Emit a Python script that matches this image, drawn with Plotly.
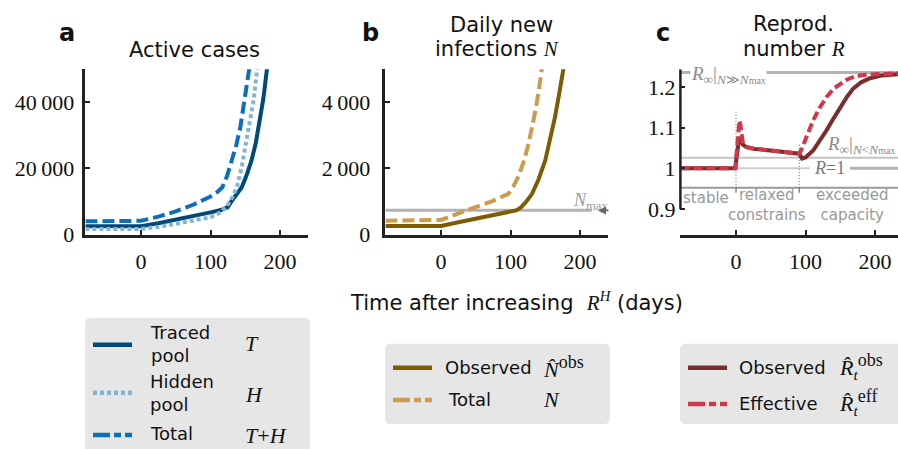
import plotly.graph_objects as go

# ---------------- data ----------------
T_days = [-80, 0, 25, 50, 75, 100, 115, 125, 131, 138, 145, 152, 159, 165, 170, 176, 181, 186]
T_vals = [2500, 2500, 3400, 4400, 5500, 6700, 7400, 8300, 10300, 12300, 14300, 18000, 22400, 27500, 33000, 41000, 49700, 58000]

H_days = [-80, 0, 25, 50, 75, 100, 115, 125, 132, 138, 145, 152, 157, 162, 167, 172]
H_vals = [1700, 1700, 2300, 3200, 4100, 5200, 6800, 9000, 11500, 14300, 20500, 28500, 34500, 40600, 49700, 58000]

TH_days = [-80, -3, 0, 25, 50, 75, 100, 110, 117, 124, 131, 137, 143, 149, 155, 160]
TH_vals = [4000, 4000, 4150, 5400, 7000, 9000, 11500, 12900, 14300, 17800, 22400, 27000, 32500, 39500, 47700, 56000]

Nobs_days = [-80, 0, 25, 50, 75, 100, 108, 115, 122, 131, 140, 150, 157, 164, 170, 176, 181]
Nobs_vals = [260, 260, 370, 480, 580, 680, 730, 820, 980, 1230, 1650, 2240, 2850, 3550, 4250, 4970, 5600]

Ntot_days = [-80, -3, 0, 25, 50, 75, 97, 104, 111, 119, 126, 131, 136, 141, 145, 149]
Ntot_vals = [420, 420, 440, 640, 830, 1020, 1230, 1450, 1740, 2200, 2750, 3200, 3760, 4400, 4970, 5600]

N_MAX = 730

Robs_days = [-80, -1, 1, 3, 5, 7, 10, 15, 25, 50, 78, 91, 95, 100, 111, 120, 130, 140, 150, 160, 169, 180, 193, 210, 233]
Robs_vals = [1.0, 1.0, 1.03, 1.065, 1.077, 1.07, 1.058, 1.052, 1.048, 1.044, 1.039, 1.036, 1.024, 1.027, 1.044,
             1.066, 1.093, 1.122, 1.151, 1.177, 1.197, 1.212, 1.222, 1.229, 1.232]

Reff_days = [-80, -1, 1, 3, 4, 5, 6, 8, 10, 15, 25, 50, 78, 91, 95, 100, 106, 111, 120, 130, 140, 150, 160,
             170, 183, 200, 233]
Reff_vals = [1.0, 1.0, 1.04, 1.10, 1.115, 1.118, 1.11, 1.08, 1.062, 1.053, 1.049, 1.044, 1.039, 1.036, 1.05,
             1.072, 1.098, 1.118, 1.148, 1.175, 1.196, 1.209, 1.219, 1.226, 1.230, 1.232, 1.234]

R_INF_HIGH = 1.236
R_INF_LOW = 1.026
R_ONE = 1.0
R_BAND = 0.952
T_RELAX = 0
T_EXCEED = 91

x_ticks = [0, 100, 200]
a_yticks = [0, 20000, 40000]
a_ylabels = ["0", "20\u2009000", "40\u2009000"]
b_yticks = [0, 2000, 4000]
b_ylabels = ["0", "2\u2009000", "4\u2009000"]
c_yticks = [0.9, 1.0, 1.1, 1.2]
c_ylabels = ["0.9", "1", "1.1", "1.2"]

# ---------------- colours ----------------
C_T = "#00497a"
C_H = "#82b4d8"
C_TH = "#0d6fb8"
C_NOBS = "#7d5c05"
C_NTOT = "#cc9c4c"
C_ROBS = "#7a2d2d"
C_REFF = "#d0384c"
GRAY = "#b3b3b3"

W, H = 898, 449      # reference pixel frame (all positions below are in this frame)
FIG_H = 463          # page height (the capture is squeezed vertically to 449)


def px(x, y):
    return x / W, 1 - y / H


fig = go.Figure()

# panel a
fig.add_trace(go.Scatter(x=T_days, y=T_vals, mode="lines", line=dict(color=C_T, width=4), xaxis="x", yaxis="y"))
fig.add_trace(go.Scatter(x=H_days, y=H_vals, mode="lines", line=dict(color=C_H, width=4, dash="4px,3px"), xaxis="x", yaxis="y"))
fig.add_trace(go.Scatter(x=TH_days, y=TH_vals, mode="lines", line=dict(color=C_TH, width=4, dash="12px,5px"), xaxis="x", yaxis="y"))
# panel b
fig.add_trace(go.Scatter(x=Nobs_days, y=Nobs_vals, mode="lines", line=dict(color=C_NOBS, width=4), xaxis="x2", yaxis="y2"))
fig.add_trace(go.Scatter(x=Ntot_days, y=Ntot_vals, mode="lines", line=dict(color=C_NTOT, width=4, dash="12px,5px"), xaxis="x2", yaxis="y2"))
# panel c
fig.add_trace(go.Scatter(x=Robs_days, y=Robs_vals, mode="lines", line=dict(color=C_ROBS, width=4), xaxis="x3", yaxis="y3"))
fig.add_trace(go.Scatter(x=Reff_days, y=Reff_vals, mode="lines", line=dict(color=C_REFF, width=4, dash="9px,4px"), xaxis="x3", yaxis="y3"))

axis_common = dict(showline=True, linecolor="#222", linewidth=2.5, ticks="inside", ticklen=5, tickwidth=2,
                   tickcolor="#222", showgrid=False, zeroline=False, fixedrange=True,
                   tickfont=dict(family="Liberation Serif", size=22, color="#111"))

ydom = [1 - 234 / H, 1 - 69 / H]

fig.update_layout(
    width=W, height=FIG_H, margin=dict(l=0, r=0, t=0, b=0), showlegend=False,
    paper_bgcolor="white", plot_bgcolor="rgba(0,0,0,0)",
    xaxis=dict(axis_common, domain=[85.4 / W, 307.8 / W], range=[-80, 240], anchor="y",
               tickvals=x_ticks, ticklabelstandoff=5),
    yaxis=dict(axis_common, domain=ydom, range=[0, 50000], anchor="x",
               tickvals=a_yticks, ticktext=a_ylabels, ticklabelstandoff=4),
    xaxis2=dict(axis_common, domain=[385.4 / W, 607.8 / W], range=[-80, 240], anchor="y2",
                tickvals=x_ticks, ticklabelstandoff=5),
    yaxis2=dict(axis_common, domain=ydom, range=[0, 5000], anchor="x2",
                tickvals=b_yticks, ticktext=b_ylabels, ticklabelstandoff=8),
    xaxis3=dict(axis_common, domain=[680.4 / W, 1.0], range=[-80, 233.1], anchor="y3",
                tickvals=x_ticks, ticklabelstandoff=5),
    yaxis3=dict(axis_common, domain=ydom, range=[0.837, 1.2444], anchor="x3", showline=False,
                tickvals=c_yticks, ticktext=c_ylabels, ticklabelstandoff=4),
)

shapes = []
# panel c y-axis spine (partial)
shapes.append(dict(type="line", xref="paper", yref="y3", x0=680.4 / W, x1=680.4 / W, y0=0.9, y1=1.2444,
                   line=dict(color="#222", width=2.5)))
# N_max line
shapes.append(dict(type="line", xref="x2", yref="y2", x0=-80, x1=217, y0=N_MAX, y1=N_MAX,
                   line=dict(color=GRAY, width=3), layer="below"))
# panel c reference lines
shapes.append(dict(type="line", xref="x3", yref="y3", x0=-80, x1=233.1, y0=R_INF_HIGH, y1=R_INF_HIGH,
                   line=dict(color=GRAY, width=3), layer="below"))
shapes.append(dict(type="line", xref="x3", yref="y3", x0=-80, x1=233.1, y0=R_INF_LOW, y1=R_INF_LOW,
                   line=dict(color="#c4c4c4", width=2), layer="below"))
shapes.append(dict(type="line", xref="x3", yref="y3", x0=-80, x1=106, y0=R_ONE, y1=R_ONE,
                   line=dict(color="#cfcfcf", width=2), layer="below"))
shapes.append(dict(type="line", xref="x3", yref="y3", x0=164, x1=233.1, y0=R_ONE, y1=R_ONE,
                   line=dict(color=GRAY, width=3), layer="below"))
shapes.append(dict(type="line", xref="x3", yref="y3", x0=-80, x1=233.1, y0=R_BAND, y1=R_BAND,
                   line=dict(color="#9a9a9a", width=2), layer="below"))
for tx, ytop in [(T_RELAX, 1.141), (T_EXCEED, 1.062)]:
    shapes.append(dict(type="line", xref="x3", yref="y3", x0=tx, x1=tx, y0=R_BAND, y1=ytop,
                       line=dict(color="#666", width=1, dash="1px,2px"), layer="below"))
    shapes.append(dict(type="line", xref="x3", yref="y3", x0=tx, x1=tx, y0=R_BAND - 0.012, y1=R_BAND,
                       line=dict(color="#888", width=1.5), layer="below"))


# legend boxes (rounded)
def rounded(x0, y0, x1, y1, r=6):
    X0, Y0 = px(x0, y0)
    X1, Y1 = px(x1, y1)
    rx, ry = r / W, r / H
    return (f"M {X0+rx},{Y0} L {X1-rx},{Y0} Q {X1},{Y0} {X1},{Y0-ry} L {X1},{Y1+ry} Q {X1},{Y1} {X1-rx},{Y1} "
            f"L {X0+rx},{Y1} Q {X0},{Y1} {X0},{Y1+ry} L {X0},{Y0-ry} Q {X0},{Y0} {X0+rx},{Y0} Z")


for (x0, y0, x1, y1) in [(85, 317, 310, 470), (385, 343, 610, 423), (680, 343, 920, 423)]:
    shapes.append(dict(type="path", xref="paper", yref="paper", path=rounded(x0, y0, x1, y1),
                       fillcolor="#e6e6e6", line=dict(width=0), layer="below"))


def legline(x0, x1, y, color, dash="solid"):
    X0, Y = px(x0, y)
    X1, _ = px(x1, y)
    shapes.append(dict(type="line", xref="paper", yref="paper", x0=X0, x1=X1, y0=Y, y1=Y,
                       line=dict(color=color, width=4.5, dash=dash)))


legline(93, 132, 344, C_T)
legline(93, 132, 392, C_H, "4px,3px")
legline(93, 132, 434, C_TH, "17px,4px,7px,4px")
legline(393, 432, 367, C_NOBS)
legline(393, 432, 399, C_NTOT, "17px,4px,7px,4px")
legline(688, 727, 367, C_ROBS)
legline(688, 727, 403, C_REFF, "17px,4px,7px,4px")

fig.update_layout(shapes=shapes)

ann = []
SANS = "DejaVu Sans"
SERIF = "Liberation Serif"


def text(x, y, s, size=18, family=SANS, color="#111", xanchor="center", yanchor="middle", **kw):
    X, Y = px(x, y)
    ann.append(dict(xref="paper", yref="paper", x=X, y=Y, text=s, showarrow=False, xanchor=xanchor,
                    yanchor=yanchor, font=dict(family=family, size=size, color=color), **kw))


def ser(s):
    return f"<span style='font-family:{SERIF}'>{s}</span>"


def bigsup(s, size=18):
    return f"<sup><span style='font-size:{size}px'>{s}</span></sup>"


# panel letters and titles
text(67, 33, "<b>a</b>", size=24)
text(370, 33, "<b>b</b>", size=24)
text(663, 33, "<b>c</b>", size=24)
text(194, 50, "Active cases", size=21)
text(501, 25, "Daily new", size=21)
text(497, 49, "infections " + ser("<i>N</i>"), size=21)
text(793, 24, "Reprod.", size=21)
text(794, 49, "number " + ser("<i>R</i>"), size=21)

# common x title
text(516, 301, "Time after increasing  " + ser("<i>R</i><sup><i>H</i></sup>") + " (days)", size=21)

# N_max label + arrow
text(590, 201, "<i>N</i><sub>max</sub>", size=18, family=SERIF, color="#9a9a9a")
X, Y = px(598, 210)
ann.append(dict(xref="paper", yref="paper", x=X, y=Y, ax=12, ay=0, text="", showarrow=True,
                arrowhead=2, arrowsize=1, arrowwidth=1.6, arrowcolor="#666"))

# panel c labels
text(690, 75, "<i>R</i><sub>∞</sub>|<sub><i>N</i>≫<i>N</i><span style='font-size:10px'>max</span></sub>",
     size=19, family=SERIF, color="#8a8a8a", xanchor="left", bgcolor="white", borderpad=0)
text(825, 145, "<i>R</i><sub>∞</sub>|<sub><i>N</i>&lt;<i>N</i><span style='font-size:10px'>max</span></sub>",
     size=19, family=SERIF, color="#8a8a8a", xanchor="left")
text(829, 168, "<i>R</i>=1", size=18, family=SERIF, color="#777")
text(706, 198, "stable", size=15, color="#999")
text(767, 205, "relaxed<br>constrains", size=15, color="#999")
text(852, 205, "exceeded<br>capacity", size=15, color="#999")

# legend texts
text(148, 343, "Traced<br>pool", xanchor="left", align="left")
text(148, 392, "Hidden<br>pool", xanchor="left", align="left")
text(148, 433, "Total", xanchor="left")
text(243, 343, "<i>T</i>", size=22, family=SERIF, xanchor="left")
text(243, 394, "<i>H</i>", size=22, family=SERIF, xanchor="left")
text(243, 435, "<i>T</i>+<i>H</i>", size=22, family=SERIF, xanchor="left")

text(443, 367, "Observed", xanchor="left")
text(446, 399, "Total", xanchor="left")
text(541, 366, "<i>N̂</i>" + bigsup("obs"), size=22, family=SERIF, xanchor="left")
text(541, 399, "<i>N</i>", size=22, family=SERIF, xanchor="left")

text(737, 367, "Observed", xanchor="left")
text(737, 403, "Effective", xanchor="left")
text(837, 366, "<i>R̂</i><sub><i>t</i></sub>" + bigsup("obs"), size=22, family=SERIF, xanchor="left")
text(837, 402, "<i>R̂</i><sub><i>t</i></sub>" + bigsup("eff"), size=22, family=SERIF, xanchor="left")

fig.update_layout(annotations=ann)

fig.write_html(
    "out.html",
    config={"displayModeBar": False},
    post_script=(
        "document.documentElement.style.margin='0px';"
        "document.documentElement.style.overflow='hidden';"
        "document.body.style.margin='0px';"
        "document.body.style.overflow='hidden';"
    ),
)
